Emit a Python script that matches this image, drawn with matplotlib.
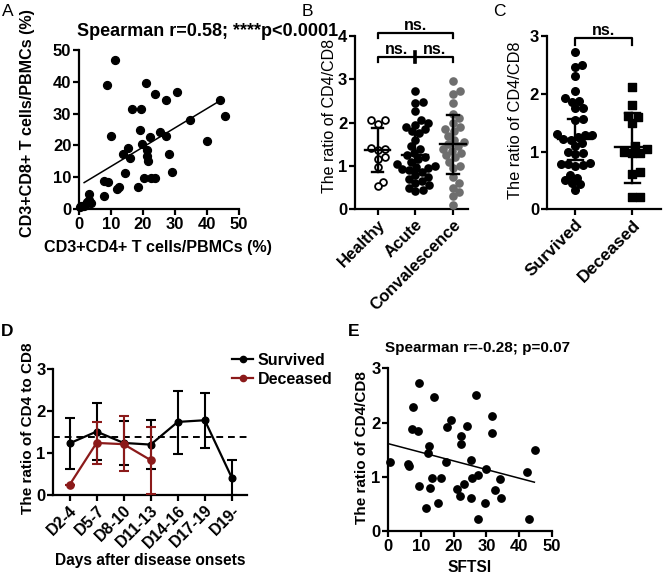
import numpy as np
import matplotlib
matplotlib.use('Agg')
import matplotlib.pyplot as plt
from matplotlib.lines import Line2D

plt.rcParams['font.family'] = ['Liberation Sans', 'DejaVu Sans']
plt.rcParams['font.weight'] = 'bold'
plt.rcParams['axes.labelweight'] = 'bold'

W, H = 664, 577
RED = '#8b1a1a'
GREY = '#6e6e6e'

# ---- data ----
# A: CD4 vs CD8 percentages
a_x = [11.2, 8.8, 20.8, 23.6, 30.7, 27.1, 16.6, 19.3, 44.2, 45.6, 34.8, 19.0, 25.2, 10.1,
       22.2, 27.1, 39.9, 19.8, 15.3, 21.3, 13.6, 28.1, 21.4, 15.9, 21.6, 14.5, 29.1, 7.7,
       9.1, 20.3, 22.5, 23.8, 12.4, 11.8, 18.3, 7.7, 3.1, 3.2, 2.4, 3.6, 1.8, 0.7, 1.5, 2.6, 0.25]
a_y = [47.0, 39.1, 39.5, 36.2, 36.7, 34.2, 31.6, 31.3, 34.4, 29.2, 27.9, 24.8, 24.2, 23.0,
       22.6, 22.9, 21.3, 20.3, 19.3, 18.5, 17.4, 17.2, 16.7, 16.0, 15.2, 11.2, 11.6, 8.9,
       8.5, 9.9, 9.7, 9.6, 6.8, 6.4, 6.8, 4.1, 4.8, 2.9, 2.3, 2.0, 1.3, 1.0, 1.1, 1.9, 0.5]
a_fit_x = [1.6, 44.8]
a_fit_y = [8.3, 34.5]

# B: ratio by group
b_groups = ['Healthy', 'Acute', 'Convalescence']
b_healthy = [2.05, 1.98, 2.05, 1.42, 1.40, 1.37, 1.20, 1.15, 0.98, 0.64, 0.53]
b_acute = [2.72, 2.48, 2.46, 2.27, 2.05, 2.0, 1.95, 1.9, 1.85, 1.8, 1.75, 1.6, 1.45, 1.4,
           1.3, 1.25, 1.2, 1.15, 1.1, 1.05, 1.0, 0.98, 0.95, 0.92, 0.9, 0.85, 0.8, 0.75,
           0.7, 0.65, 0.6, 0.55, 0.5, 0.45, 0.42]
b_conv = [2.96, 2.72, 2.65, 2.45, 2.2, 2.1, 2.0, 1.9, 1.85, 1.8, 1.7, 1.6, 1.55, 1.5, 1.45,
          1.4, 1.35, 1.3, 1.25, 1.2, 1.1, 1.0, 0.95, 0.75, 0.6, 0.5, 0.4, 0.3, 0.1]
b_mean = [1.36, 1.25, 1.51]
b_lo = [0.85, 0.88, 0.81]
b_hi = [1.88, 1.77, 2.18]

# C: survived vs deceased
c_groups = ['Survived', 'Deceased']
c_surv = [2.72, 2.50, 2.47, 2.30, 2.05, 1.92, 1.88, 1.86, 1.76, 1.75, 1.57, 1.55, 1.30, 1.29,
          1.28, 1.25, 1.22, 1.20, 1.15, 1.10, 1.00, 0.97, 0.95, 0.80, 0.79, 0.78, 0.77, 0.75,
          0.60, 0.55, 0.50, 0.45, 0.43, 0.33]
c_dec = [2.12, 1.80, 1.62, 1.60, 1.50, 1.10, 1.05, 1.0, 0.97, 0.97, 0.64, 0.61, 0.22, 0.22]
c_mean = [1.21, 1.08]
c_lo = [0.85, 0.46]
c_hi = [1.56, 1.66]

# D: ratio over time
d_days = ['D2-4', 'D5-7', 'D8-10', 'D11-13', 'D14-16', 'D17-19', 'D19-']
d_surv_mean = [1.23, 1.51, 1.24, 1.20, 1.74, 1.78, 0.41]
d_surv_lo = [0.63, 0.83, 0.71, 0.62, 0.98, 1.11, 0.0]
d_surv_hi = [1.84, 2.20, 1.76, 1.78, 2.47, 2.42, 0.84]
d_dec_mean = [0.24, 1.24, 1.21, 0.83]
d_dec_lo = [0.24, 0.74, 0.58, 0.02]
d_dec_hi = [0.24, 1.75, 1.87, 1.63]
d_ref = 1.37

# E: SFTSI vs ratio
e_x = [9.5, 14.0, 26.8, 7.7, 31.7, 19.2, 7.1, 9.0, 18.1, 24.0, 22.1, 31.7, 22.2, 12.6, 12.0,
       44.8, 0.4, 6.1, 6.2, 17.7, 25.4, 29.8, 42.4, 13.3, 16.0, 25.5, 27.6, 34.3, 9.5, 12.7,
       23.2, 20.9, 32.7, 21.8, 25.2, 34.4, 15.3, 29.7, 11.6, 27.6, 43.0]
e_y = [2.72, 2.48, 2.50, 2.29, 2.12, 2.05, 1.88, 1.85, 1.92, 1.94, 1.75, 1.81, 1.61, 1.56, 1.43,
       1.49, 1.28, 1.23, 1.19, 1.27, 1.30, 1.14, 1.09, 0.97, 0.98, 0.98, 1.03, 0.95, 0.83, 0.79,
       0.87, 0.77, 0.76, 0.65, 0.61, 0.61, 0.52, 0.51, 0.43, 0.22, 0.23]
e_fit_x = [0, 44.7]
e_fit_y = [1.61, 0.90]


fig = plt.figure(figsize=(W / 100, H / 100), dpi=100)


def add_ax(l, t, r, b):
    return fig.add_axes([l / W, 1 - b / H, (r - l) / W, (b - t) / H])


def ftext(x, y, s, **kw):
    kw.setdefault('ha', 'center')
    kw.setdefault('va', 'center')
    fig.text(x / W, 1 - y / H, s, **kw)


def style(ax):
    for s in ['top', 'right']:
        ax.spines[s].set_visible(False)
    for s in ['left', 'bottom']:
        ax.spines[s].set_linewidth(1.6)
    ax.tick_params(width=1.6, length=4, labelsize=12, pad=1.5)


def swarm(values, px_per_y, px_per_x, d):
    # simple beeswarm offsets in data x units
    vals = np.asarray(values)
    order = np.argsort(vals)
    placed = []
    offs = np.zeros(len(vals))
    steps = [0]
    for k in range(1, 60):
        steps += [k * 0.5, -k * 0.5]
    for i in order:
        y = vals[i] * px_per_y
        for s in steps:
            ok = all((s - px) ** 2 + (y - py) ** 2 >= d * d for px, py in placed)
            if ok:
                placed.append((s, y))
                offs[i] = s / px_per_x
                break
    return offs


def mean_sd(ax, x, m, lo, hi, mw, cw):
    ax.plot([x, x], [lo, hi], color='black', lw=1.7, zorder=5)
    ax.plot([x - mw, x + mw], [m, m], color='black', lw=1.7, zorder=5)
    ax.plot([x - cw, x + cw], [lo, lo], color='black', lw=1.7, zorder=5)
    ax.plot([x - cw, x + cw], [hi, hi], color='black', lw=1.7, zorder=5)


def bracket(ax, x1, x2, y, drop, label, fs=11.5):
    ax.plot([x1, x1, x2, x2], [y - drop, y, y, y - drop], color='black', lw=1.6,
             clip_on=False)
    ax.text((x1 + x2) / 2, y + drop * 0.05, label, ha='center', va='bottom', fontsize=fs)


# ---- A ----
axA = add_ax(79, 50, 239, 209)
style(axA)
axA.scatter(a_x, a_y, s=32, color='black', zorder=3, clip_on=False)
axA.plot(a_fit_x, a_fit_y, color='black', lw=1.1)
axA.set_xlim(0, 50)
axA.set_ylim(0, 50)
axA.set_xticks([0, 10, 20, 30, 40, 50])
axA.set_yticks([0, 10, 20, 30, 40, 50])
ftext(77, 31, 'Spearman r=0.58; ****p<0.0001', ha='left', fontsize=13)
ftext(28, 123, 'CD3+CD8+ T cells/PBMCs (%)', rotation=90, fontsize=11.6)
ftext(158, 248, 'CD3+CD4+ T cells/PBMCs (%)', fontsize=11.6)
ftext(8, 11, 'A', fontsize=12.5, fontweight='normal')

# ---- B ----
axB = add_ax(355, 36, 468, 209.3)
style(axB)
ppy_b, ppx_b = 43.3, 38.0
for i, (vals, fc, ec) in enumerate([(b_healthy, 'white', 'black'),
                                    (b_acute, 'black', 'black'),
                                    (b_conv, GREY, GREY)]):
    xo = swarm(vals, ppy_b, ppx_b, 7.2)
    axB.scatter(i + xo, vals, s=24, facecolor=fc, edgecolor=ec, linewidth=1.3, zorder=3,
                clip_on=False)
    mean_sd(axB, i, b_mean[i], b_lo[i], b_hi[i], 0.34, 0.15)
axB.set_xlim(-0.6, 2.4)
axB.set_ylim(0, 4)
axB.set_yticks([0, 1, 2, 3, 4])
axB.set_xticks(range(3))
axB.set_xticklabels(b_groups, rotation=45, ha='right', rotation_mode='anchor', fontsize=12)
bracket(axB, 0, 2, 4.07, 0.12, 'ns.')
bracket(axB, 0, 1, 3.52, 0.12, 'ns.')
bracket(axB, 1, 2, 3.52, 0.12, 'ns.')
axB.plot([1, 1], [3.4, 3.62], color='black', lw=2.6, clip_on=False)
ftext(330, 116, 'The ratio of CD4/CD8', rotation=90, fontsize=11.5, fontweight='normal')
ftext(307, 11, 'B', fontsize=12.5, fontweight='normal')

# ---- C ----
axC = add_ax(546.7, 36, 661, 209.3)
style(axC)
ppy_c, ppx_c = 57.8, 57.4
xo = swarm(c_surv, ppy_c, ppx_c, 7.2)
axC.scatter(0 + xo, c_surv, s=30, color='black', zorder=3, clip_on=False)
xo = swarm(c_dec, ppy_c, ppx_c, 7.8)
axC.scatter(1 + xo, c_dec, s=30, marker='s', color='black', zorder=3, clip_on=False)
for i in range(2):
    mean_sd(axC, i, c_mean[i], c_lo[i], c_hi[i], 0.3, 0.13)
axC.set_xlim(-0.5, 1.5)
axC.set_ylim(0, 3)
axC.set_yticks([0, 1, 2, 3])
axC.set_xticks(range(2))
axC.set_xticklabels(c_groups, rotation=45, ha='right', rotation_mode='anchor', fontsize=12.5)
bracket(axC, 0, 1, 2.96, 0.12, 'ns.')
ftext(516, 120, 'The ratio of CD4/CD8', rotation=90, fontsize=11.8, fontweight='normal')
ftext(499, 11, 'C', fontsize=12.5, fontweight='normal')

# ---- D ----
axD = add_ax(53.3, 369, 246.7, 495)
style(axD)
xd = np.arange(len(d_days))
sm = np.array(d_surv_mean)
axD.errorbar(xd, sm, yerr=[sm - np.array(d_surv_lo), np.array(d_surv_hi) - sm],
             color='black', lw=1.6, marker='o', ms=4.8, capsize=3.5, capthick=1.5,
             elinewidth=1.5, zorder=3, label='Survived')
dm = np.array(d_dec_mean)
xdd = np.arange(len(d_dec_mean))
axD.errorbar(xdd, dm, yerr=[dm - np.array(d_dec_lo), np.array(d_dec_hi) - dm],
             color=RED, lw=1.6, marker='o', ms=5.2, capsize=3.5, capthick=1.5,
             elinewidth=1.5, zorder=4, label='Deceased')
axD.axhline(d_ref, color='black', lw=1.4, ls=(0, (3.5, 2.5)), zorder=2)
axD.set_xlim(-0.6, 6.55)
axD.set_ylim(0, 3)
axD.set_yticks([0, 1, 2, 3])
axD.set_xticks(xd)
axD.set_xticklabels(d_days, rotation=45, ha='right', rotation_mode='anchor', fontsize=11.5)
hs = [Line2D([], [], color='black', marker='o', ms=4.5, lw=1.6),
      Line2D([], [], color=RED, marker='o', ms=4.5, lw=1.6)]
fig.legend(hs, ['Survived', 'Deceased'], loc='center left',
           bbox_to_anchor=(218 / W, 1 - 370 / H), frameon=False, fontsize=11.5,
           handlelength=1.3, handletextpad=0.3, labelspacing=0.25)
ftext(28, 428, 'The ratio of CD4 to CD8', rotation=90, fontsize=11)
ftext(150, 561, 'Days after disease onsets', fontsize=11.2)
ftext(7, 331, 'D', fontsize=12.5)

# ---- E ----
axE = add_ax(388.3, 368.3, 551.7, 531)
style(axE)
axE.scatter(e_x, e_y, s=28, color='black', zorder=3, clip_on=False)
axE.plot(e_fit_x, e_fit_y, color='black', lw=1.1)
axE.set_xlim(0, 50)
axE.set_ylim(0, 3)
axE.set_xticks([0, 10, 20, 30, 40, 50])
axE.set_yticks([0, 1, 2, 3])
ftext(477, 348, 'Spearman r=-0.28; p=0.07', fontsize=11)
ftext(362, 448, 'The ratio of CD4/CD8', rotation=90, fontsize=11)
ftext(470, 567, 'SFTSI', fontsize=11.2)
ftext(354, 331, 'E', fontsize=12.5)

fig.savefig('out.png', dpi=100)
